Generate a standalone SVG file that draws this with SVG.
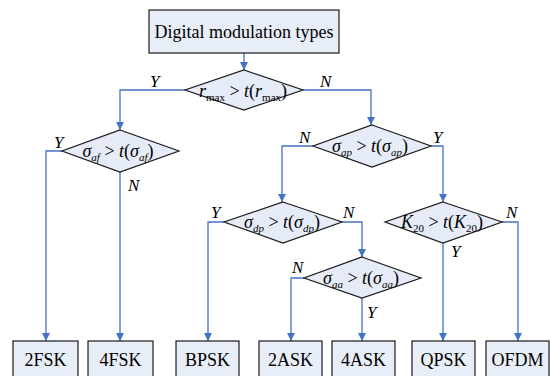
<svg xmlns="http://www.w3.org/2000/svg" width="551" height="376" viewBox="0 0 551 376">
<defs>
<marker id="ah" markerWidth="8" markerHeight="8" refX="8" refY="4" orient="auto" markerUnits="userSpaceOnUse">
<path d="M0,0 L8,4 L0,8 Z" fill="#4472C4"/>
</marker>
</defs>
<style>
.box{fill:#E8EEF8;stroke:#1a1a1a;stroke-width:1.2}
.dia{fill:#E6ECF7;stroke:#1a1a1a;stroke-width:1.2}
.bt{font-family:'Liberation Serif',serif !important;font-size:18px;fill:#000;text-anchor:middle}
.mt{font-family:'Liberation Serif',serif !important;font-size:18px;fill:#000;text-anchor:middle;font-style:italic}
.sub{font-size:11px}
.up{font-style:normal}
.lab{font-family:'Liberation Serif',serif !important;font-size:17px;font-style:italic;fill:#000}
.c{fill:none;stroke:#4472C4;stroke-width:1.3}
</style>
<g id="connectors">
<path class="c" d="M244,53 V70" marker-end="url(#ah)"/>
<path class="c" d="M185,90 H120 V130" marker-end="url(#ah)"/>
<path class="c" d="M303,90 H371 V125" marker-end="url(#ah)"/>
<path class="c" d="M62,151 H46 V341" marker-end="url(#ah)"/>
<path class="c" d="M120,172 V341" marker-end="url(#ah)"/>
<path class="c" d="M313,146 H282 V202" marker-end="url(#ah)"/>
<path class="c" d="M431,146 H443 V202" marker-end="url(#ah)"/>
<path class="c" d="M224,222 H208 V341" marker-end="url(#ah)"/>
<path class="c" d="M342,222 H362 V257" marker-end="url(#ah)"/>
<path class="c" d="M304,278 H291 V341" marker-end="url(#ah)"/>
<path class="c" d="M362,298 V341" marker-end="url(#ah)"/>
<path class="c" d="M443,243 V341" marker-end="url(#ah)"/>
<path class="c" d="M502,222 H518 V341" marker-end="url(#ah)"/>
<text class="lab" font-family="Liberation Serif" x="150" y="87">Y</text>
<text class="lab" font-family="Liberation Serif" x="320" y="87">N</text>
<text class="lab" font-family="Liberation Serif" x="54" y="148">Y</text>
<text class="lab" font-family="Liberation Serif" x="128" y="191">N</text>
<text class="lab" font-family="Liberation Serif" x="299" y="143">N</text>
<text class="lab" font-family="Liberation Serif" x="433" y="143">Y</text>
<text class="lab" font-family="Liberation Serif" x="211" y="218">Y</text>
<text class="lab" font-family="Liberation Serif" x="343" y="218">N</text>
<text class="lab" font-family="Liberation Serif" x="292" y="273">N</text>
<text class="lab" font-family="Liberation Serif" x="367" y="318">Y</text>
<text class="lab" font-family="Liberation Serif" x="506" y="218">N</text>
<text class="lab" font-family="Liberation Serif" x="451" y="257">Y</text>
</g>
<g id="start">
<rect class="box" x="149" y="10" width="190" height="43"/>
<text class="bt" font-family="Liberation Serif" x="244" y="38">Digital modulation types</text>
</g>
<g id="d1">
<polygon class="dia" points="244,70 303,90 244,110 185,90"/>
<text class="mt" font-family="Liberation Serif" x="243" y="97">r<tspan class="sub up" dy="4">max</tspan><tspan dy="-4" class="up"> &gt; </tspan>t<tspan class="up">(</tspan>r<tspan class="sub up" dy="4">max</tspan><tspan dy="-4" class="up">)</tspan></text>
</g>
<g id="d2">
<polygon class="dia" points="120,130 179,151 120,172 62,151"/>
<text class="mt" font-family="Liberation Serif" x="118" y="157">σ<tspan class="sub" dy="4">af</tspan><tspan dy="-4" class="up"> &gt; </tspan>t<tspan class="up">(</tspan>σ<tspan class="sub" dy="4">af</tspan><tspan dy="-4" class="up">)</tspan></text>
</g>
<g id="d3">
<polygon class="dia" points="372,125 431,146 372,167 313,146"/>
<text class="mt" font-family="Liberation Serif" x="370" y="152">σ<tspan class="sub" dy="4">ap</tspan><tspan dy="-4" class="up"> &gt; </tspan>t<tspan class="up">(</tspan>σ<tspan class="sub" dy="4">ap</tspan><tspan dy="-4" class="up">)</tspan></text>
</g>
<g id="d4">
<polygon class="dia" points="283,202 342,222 283,243 224,222"/>
<text class="mt" font-family="Liberation Serif" x="282" y="228">σ<tspan class="sub" dy="4">dp</tspan><tspan dy="-4" class="up"> &gt; </tspan>t<tspan class="up">(</tspan>σ<tspan class="sub" dy="4">dp</tspan><tspan dy="-4" class="up">)</tspan></text>
</g>
<g id="d5">
<polygon class="dia" points="443,202 502,222 443,243 385,222"/>
<text class="mt" font-family="Liberation Serif" x="442" y="228">K<tspan class="sub up" dy="4">20</tspan><tspan dy="-4" class="up"> &gt; </tspan>t<tspan class="up">(</tspan>K<tspan class="sub up" dy="4">20</tspan><tspan dy="-4" class="up">)</tspan></text>
</g>
<g id="d6">
<polygon class="dia" points="362,257 421,278 362,298 304,278"/>
<text class="mt" font-family="Liberation Serif" x="361" y="284">σ<tspan class="sub" dy="4">aa</tspan><tspan dy="-4" class="up"> &gt; </tspan>t<tspan class="up">(</tspan>σ<tspan class="sub" dy="4">aa</tspan><tspan dy="-4" class="up">)</tspan></text>
</g>
<g id="n2fsk"><rect class="box" x="13" y="341" width="65" height="42"/><text class="bt" font-family="Liberation Serif" x="45.5" y="366">2FSK</text></g>
<g id="n4fsk"><rect class="box" x="88" y="341" width="65" height="42"/><text class="bt" font-family="Liberation Serif" x="120.5" y="366">4FSK</text></g>
<g id="nbpsk"><rect class="box" x="176" y="341" width="63" height="42"/><text class="bt" font-family="Liberation Serif" x="207.5" y="366">BPSK</text></g>
<g id="n2ask"><rect class="box" x="259" y="341" width="63" height="42"/><text class="bt" font-family="Liberation Serif" x="290.5" y="366">2ASK</text></g>
<g id="n4ask"><rect class="box" x="332" y="341" width="63" height="42"/><text class="bt" font-family="Liberation Serif" x="363.5" y="366">4ASK</text></g>
<g id="nqpsk"><rect class="box" x="412" y="341" width="63" height="42"/><text class="bt" font-family="Liberation Serif" x="443.5" y="366">QPSK</text></g>
<g id="nofdm"><rect class="box" x="486" y="341" width="63" height="42"/><text class="bt" font-family="Liberation Serif" x="517.5" y="366">OFDM</text></g>
</svg>
